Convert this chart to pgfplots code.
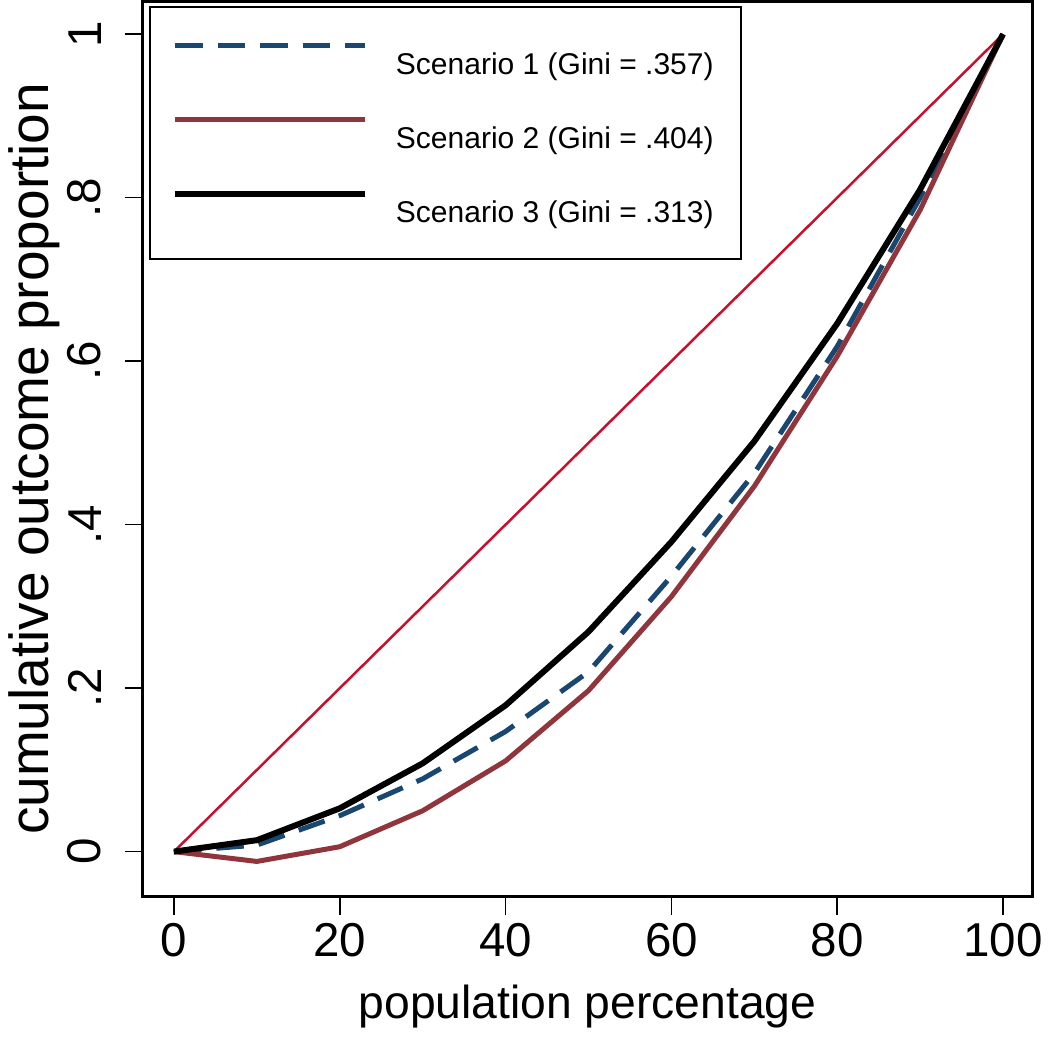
\documentclass[border=0pt]{standalone}
\usepackage{fontspec}
\setmainfont{Liberation Sans}
\usepackage{pgfplots}
\pgfplotsset{compat=1.18}
\definecolor{eqred}{HTML}{C8102E}
\definecolor{maroonS}{HTML}{90353B}
\definecolor{navyS}{HTML}{1A476F}
\begin{document}
\begin{tikzpicture}
\begin{axis}[
  scale only axis,
  width=355.6pt, height=358pt,
  xmin=-3.74, xmax=103.5,
  ymin=-0.055, ymax=1.040,
  axis line style={line width=1.2pt},
  tick align=outside,
  tick style={line width=0.6pt, black},
  major tick length=7.2pt,
  xtick={0,20,40,60,80,100},
  xticklabels={0,20,40,60,80,100},
  ytick={0,0.2,0.4,0.6,0.8,1},
  yticklabels={0,.2,.4,.6,.8,1},
  xtick pos=bottom, ytick pos=left,
  ticklabel style={font=\fontsize{19}{22}\selectfont},
  yticklabel style={rotate=90, anchor=south},
  yticklabel shift=6pt,
  xlabel={population percentage},
  ylabel={cumulative outcome proportion},
  xlabel style={font=\fontsize{18.5}{22}\selectfont, at={(axis description cs:0.5,-0.1363)}, anchor=base},
  ylabel style={font=\fontsize{22}{26}\selectfont, at={(axis description cs:-0.1226,0.489)}, anchor=center},
  legend style={at={(rel axis cs:0.0067,0.9955)}, anchor=north west,
    draw=black, line width=0.8pt, font=\fontsize{12}{14}\selectfont,
    inner xsep=9pt, inner ysep=11pt, row sep=10pt,
    cells={anchor=west}},
  legend image code/.code={\draw[#1] (0pt,8pt) -- (76pt,8pt); \path (85pt,11.5pt);},
]
\path (rel axis cs:-0.1654,-0.1575) rectangle (rel axis cs:1.0169,1.0089);
\addplot[eqred, line width=1pt, forget plot] coordinates {(0,0) (100,1)};
\addplot[navyS, line width=2pt, dash pattern=on 11pt off 6pt] coordinates {
(0,0) (10,0.008) (20,0.044) (30,0.089) (40,0.147) (50,0.220) (60,0.337) (70,0.463) (80,0.618) (90,0.800) (100,1)};
\addlegendentry{Scenario 1 (Gini = .357)}
\addplot[maroonS, line width=2pt] coordinates {
(0,0) (10,-0.012) (20,0.006) (30,0.050) (40,0.111) (50,0.197) (60,0.312) (70,0.447) (80,0.606) (90,0.785) (100,1)};
\addlegendentry{Scenario 2 (Gini = .404)}
\addplot[black, line width=2.4pt] coordinates {
(0,0) (10,0.014) (20,0.053) (30,0.108) (40,0.179) (50,0.269) (60,0.379) (70,0.502) (80,0.646) (90,0.810) (100,1)};
\addlegendentry{Scenario 3 (Gini = .313)}
\end{axis}
\end{tikzpicture}
\end{document}
